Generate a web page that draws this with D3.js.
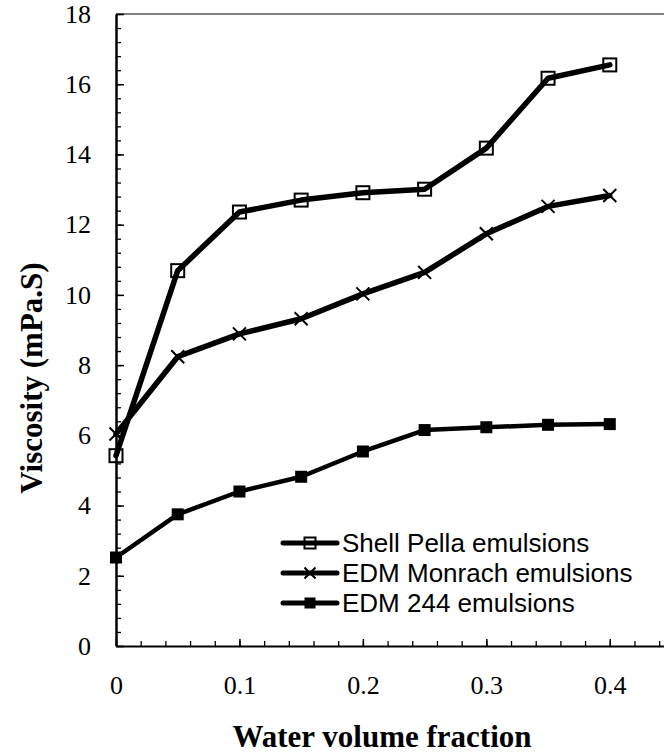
<!DOCTYPE html>
<html><head><meta charset="utf-8">
<script src="https://cdn.jsdelivr.net/npm/d3@7"></script>
<style>body{margin:0;background:#fff;overflow:hidden}</style>
</head><body><svg id="c" width="664" height="755"></svg>
<script>
const xValues = [0, 0.05, 0.1, 0.15, 0.2, 0.25, 0.3, 0.35, 0.4];
const shellPella = [5.42, 10.69, 12.36, 12.70, 12.91, 13.01, 14.18, 16.17, 16.55];
const edmMonrach = [6.04, 8.24, 8.89, 9.32, 10.03, 10.64, 11.74, 12.52, 12.83];
const edm244 = [2.52, 3.75, 4.40, 4.82, 5.54, 6.15, 6.23, 6.30, 6.32];
const seriesNames = ["Shell Pella emulsions", "EDM Monrach emulsions", "EDM 244 emulsions"];
const xTickLabels = [0, 0.1, 0.2, 0.3, 0.4];
const yTickLabels = [0, 2, 4, 6, 8, 10, 12, 14, 16, 18];
const xTitle = "Water volume fraction";
const yTitle = "Viscosity (mPa.S)";

const svg = d3.select("#c");
const x = d3.scaleLinear().domain([0, 0.45]).range([116, 671.5]);
const y = d3.scaleLinear().domain([0, 18]).range([646, 14]);

const serif = "'Liberation Serif','Times New Roman',serif";
const sans = "'Liberation Sans',Arial,sans-serif";

// top border
svg.append("line").attr("x1", x(0)).attr("x2", 664).attr("y1", y(18)).attr("y2", y(18))
  .attr("stroke", "#808080").attr("stroke-width", 2);

// minor ticks
const xMinor = d3.range(0, 0.4501, 0.02);
const yMinor = d3.range(0, 18.001, 0.4);
svg.append("g").attr("transform", `translate(0,${y(0)})`)
  .call(d3.axisBottom(x).tickValues(xMinor).tickSize(-5).tickFormat(""))
  .call(g => g.select(".domain").remove())
  .call(g => g.selectAll("line").attr("stroke-width", 1.3));
svg.append("g").attr("transform", `translate(${x(0)},0)`)
  .call(d3.axisLeft(y).tickValues(yMinor).tickSize(-5).tickFormat(""))
  .call(g => g.select(".domain").remove())
  .call(g => g.selectAll("line").attr("stroke-width", 1.3));

// major axes
const xAxis = svg.append("g").attr("transform", `translate(0,${y(0)})`)
  .call(d3.axisBottom(x).tickValues(xTickLabels).tickSize(-7).tickSizeOuter(0).tickPadding(30)
    .tickFormat(d => d === 0 ? "0" : d3.format(".1f")(d)));
xAxis.select(".domain").attr("stroke-width", 2);
xAxis.selectAll("line").attr("stroke-width", 1.5);
xAxis.selectAll("text").attr("font-family", serif).attr("font-size", 26).attr("fill", "#000");

const yAxis = svg.append("g").attr("transform", `translate(${x(0)},0)`)
  .call(d3.axisLeft(y).tickValues(yTickLabels).tickSize(-8).tickSizeOuter(0).tickPadding(25)
    .tickFormat(d3.format("d")));
yAxis.select(".domain").attr("stroke-width", 2.5);
yAxis.selectAll("line").attr("stroke-width", 1.5);
yAxis.selectAll("text").attr("font-family", serif).attr("font-size", 26).attr("fill", "#000");

// titles
svg.append("text").attr("x", 382).attr("y", 747).attr("text-anchor", "middle")
  .attr("font-family", serif).attr("font-size", 31).attr("font-weight", "bold").text(xTitle);
svg.append("text").attr("transform", "translate(42,378) rotate(-90)").attr("text-anchor", "middle")
  .attr("font-family", serif).attr("font-size", 31).attr("font-weight", "bold").text(yTitle);

const series = [
  {name: seriesNames[0], values: shellPella, marker: "openSquare", width: 5.5},
  {name: seriesNames[1], values: edmMonrach, marker: "cross", width: 5.5},
  {name: seriesNames[2], values: edm244, marker: "filledSquare", width: 4.5}
];

function drawMarker(g, type, cx, cy, s) {
  if (type === "openSquare") {
    g.append("rect").attr("x", cx - s / 2).attr("y", cy - s / 2).attr("width", s).attr("height", s)
      .attr("fill", "none").attr("stroke", "#000").attr("stroke-width", 2);
  } else if (type === "filledSquare") {
    g.append("rect").attr("x", cx - s / 2).attr("y", cy - s / 2).attr("width", s).attr("height", s)
      .attr("fill", "#000");
  } else {
    const h = s / 2;
    g.append("path").attr("d", `M${cx - h},${cy - h}L${cx + h},${cy + h}M${cx - h},${cy + h}L${cx + h},${cy - h}`)
      .attr("stroke", "#000").attr("stroke-width", 2).attr("fill", "none");
  }
}

const line = d3.line().x(d => x(d[0])).y(d => y(d[1]));
series.forEach(s => {
  const pts = xValues.map((xv, i) => [xv, s.values[i]]);
  const g = svg.append("g");
  g.append("path").attr("d", line(pts)).attr("fill", "none").attr("stroke", "#000")
    .attr("stroke-width", s.width).attr("stroke-linejoin", "round").attr("stroke-linecap", "round");
  pts.forEach(p => drawMarker(g, s.marker, x(p[0]), y(p[1]), s.marker === "filledSquare" ? 12 : 13));
});

// legend
series.forEach((s, i) => {
  const cy = 543 + i * 30;
  const g = svg.append("g");
  g.append("line").attr("x1", 283).attr("x2", 337).attr("y1", cy).attr("y2", cy)
    .attr("stroke", "#000").attr("stroke-width", 5).attr("stroke-linecap", "round");
  drawMarker(g, s.marker, 310, cy, s.marker === "filledSquare" ? 11 : 11);
  g.append("text").attr("x", 342).attr("y", cy).attr("dy", "0.36em")
    .attr("font-family", sans).attr("font-size", 26).attr("fill", "#000").text(s.name);
});
</script>
</body></html>
